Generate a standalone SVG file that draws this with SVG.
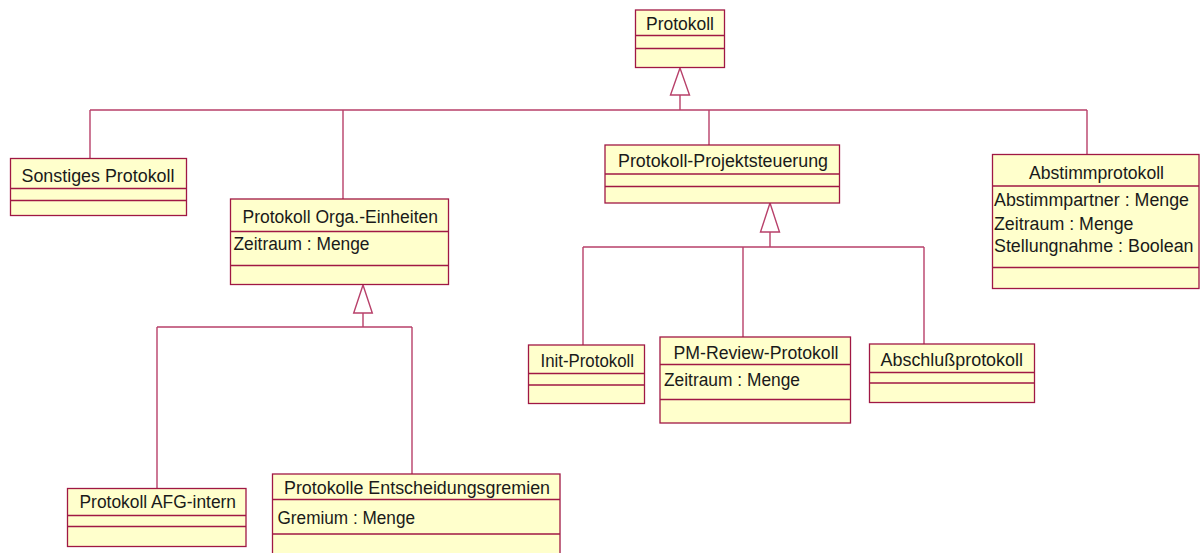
<svg xmlns="http://www.w3.org/2000/svg" width="1200" height="553" viewBox="0 0 1200 553">
  <style>
    .box { fill: #FFFFCC; stroke: #A01844; stroke-width: 1.3; }
    .div { stroke: #A01844; stroke-width: 1.3; fill: none; }
    .con { stroke: #B8406A; stroke-width: 1.4; fill: none; }
    .tri { fill: #FFFFFF; stroke: #B8406A; stroke-width: 1.4; }
    text { font-family: "Liberation Sans", Arial, sans-serif; font-size: 18px; fill: #1a1a1a; }
  </style>
  <rect width="1200" height="553" fill="#FFFFFF"/>

  <!-- generalisation connectors -->
  <g id="connectors">
    <!-- Protokoll tree -->
    <path class="con" d="M680 95 V110 M90 110 H1087 M90 110 V158 M343 110 V199 M709 110 V145 M1087 110 V154"/>
    <polygon class="tri" points="680,68 670.5,95 689.5,95"/>
    <!-- Orga.-Einheiten tree -->
    <path class="con" d="M363 313 V327 M157 327 H412 M157 327 V488 M412 327 V474"/>
    <polygon class="tri" points="363,285 353.7,313 372.3,313"/>
    <!-- Projektsteuerung tree -->
    <path class="con" d="M770 232 V247 M583 247 H924 M583 247 V345 M743 247 V337 M924 247 V344"/>
    <polygon class="tri" points="770,203 760.5,232 779.5,232"/>
  </g>

  <g id="protokoll">
    <rect class="box" x="635.5" y="10" width="89" height="57.5"/>
    <path class="div" d="M635.5 35.5 H724.5 M635.5 48.5 H724.5"/>
    <text x="646" y="30" textLength="68" lengthAdjust="spacingAndGlyphs">Protokoll</text>
  </g>

  <g id="sonstiges">
    <rect class="box" x="10.5" y="158.5" width="176" height="57"/>
    <path class="div" d="M10.5 188.5 H186.5 M10.5 200.5 H186.5"/>
    <text x="21.5" y="181.5" textLength="153" lengthAdjust="spacingAndGlyphs">Sonstiges Protokoll</text>
  </g>

  <g id="orga">
    <rect class="box" x="230.5" y="199" width="218" height="85.5"/>
    <path class="div" d="M230.5 231.5 H448.5 M230.5 265.5 H448.5"/>
    <text x="242.5" y="223" textLength="195.5" lengthAdjust="spacingAndGlyphs">Protokoll Orga.-Einheiten</text>
    <text x="233.5" y="250" textLength="136" lengthAdjust="spacingAndGlyphs">Zeitraum : Menge</text>
  </g>

  <g id="projektsteuerung">
    <rect class="box" x="605" y="145" width="234.5" height="58"/>
    <path class="div" d="M605 174 H839.5 M605 186.5 H839.5"/>
    <text x="618" y="166.5" textLength="210" lengthAdjust="spacingAndGlyphs">Protokoll-Projektsteuerung</text>
  </g>

  <g id="abstimm">
    <rect class="box" x="992.5" y="154.5" width="206.5" height="134"/>
    <path class="div" d="M992.5 186 H1199 M992.5 267.5 H1199"/>
    <text x="1029" y="179" textLength="135" lengthAdjust="spacingAndGlyphs">Abstimmprotokoll</text>
    <text x="994" y="206" textLength="195" lengthAdjust="spacingAndGlyphs">Abstimmpartner : Menge</text>
    <text x="994" y="229.5" textLength="139.5" lengthAdjust="spacingAndGlyphs">Zeitraum : Menge</text>
    <text x="994" y="252" textLength="199.5" lengthAdjust="spacingAndGlyphs">Stellungnahme : Boolean</text>
  </g>

  <g id="init">
    <rect class="box" x="528.5" y="345" width="116" height="58.5"/>
    <path class="div" d="M528.5 373.5 H644.5 M528.5 385 H644.5"/>
    <text x="540.5" y="366.5" textLength="93.5" lengthAdjust="spacingAndGlyphs">Init-Protokoll</text>
  </g>

  <g id="pmreview">
    <rect class="box" x="660" y="337" width="190.5" height="86"/>
    <path class="div" d="M660 364.5 H850.5 M660 399.5 H850.5"/>
    <text x="673.5" y="358.5" textLength="165" lengthAdjust="spacingAndGlyphs">PM-Review-Protokoll</text>
    <text x="664" y="386" textLength="136" lengthAdjust="spacingAndGlyphs">Zeitraum : Menge</text>
  </g>

  <g id="abschluss">
    <rect class="box" x="869.5" y="344" width="165" height="58.5"/>
    <path class="div" d="M869.5 372.5 H1034.5 M869.5 383 H1034.5"/>
    <text x="880.5" y="366" textLength="142.5" lengthAdjust="spacingAndGlyphs">Abschlußprotokoll</text>
  </g>

  <g id="afg">
    <rect class="box" x="67.5" y="488.5" width="178.5" height="58"/>
    <path class="div" d="M67.5 515.5 H246 M67.5 526.5 H246"/>
    <text x="79.5" y="507.5" textLength="156.5" lengthAdjust="spacingAndGlyphs">Protokoll AFG-intern</text>
  </g>

  <g id="entscheidung">
    <rect class="box" x="272.5" y="474" width="287.5" height="90"/>
    <path class="div" d="M272.5 499.5 H560 M272.5 534 H560"/>
    <text x="284" y="493.5" textLength="266" lengthAdjust="spacingAndGlyphs">Protokolle Entscheidungsgremien</text>
    <text x="277.5" y="524" textLength="137.5" lengthAdjust="spacingAndGlyphs">Gremium : Menge</text>
  </g>
</svg>
